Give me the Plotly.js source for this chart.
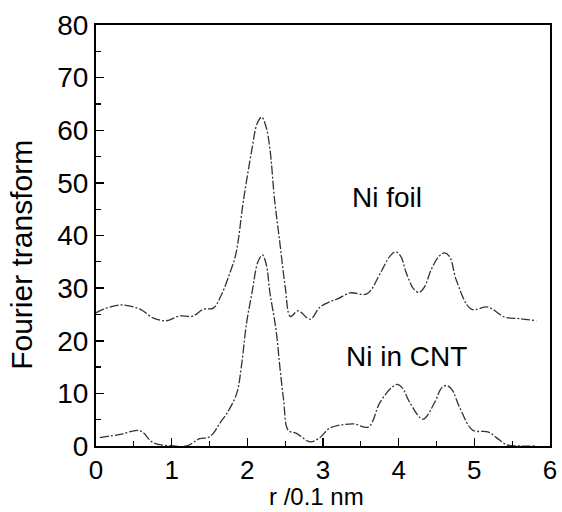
<!DOCTYPE html>
<html>
<head>
<meta charset="utf-8">
<script src="https://cdn.plot.ly/plotly-3.0.1.min.js"></script>
<style>html,body{margin:0;padding:0;background:#fff;}#chart{width:562px;height:512px;}</style>
</head>
<body>
<div id="chart"></div>
<script>
// Ni foil (upper curve)
var foilR = [0, 0.1, 0.32, 0.58, 0.76, 0.93, 1.1, 1.28, 1.42, 1.55, 1.65, 1.77, 1.85, 1.95, 2.06, 2.13, 2.19, 2.25, 2.3, 2.36, 2.43, 2.5, 2.57, 2.67, 2.83, 2.96, 3.09, 3.2, 3.36, 3.58, 3.76, 3.88, 3.96, 4.03, 4.1, 4.2, 4.27, 4.34, 4.43, 4.53, 4.61, 4.68, 4.76, 4.96, 5.18, 5.4, 5.6, 5.82];
var foilFT = [25.3, 26, 26.8, 26, 24.3, 23.8, 24.7, 24.7, 26, 26.2, 28.5, 32.9, 36.6, 46.8, 56.3, 61.3, 62.5, 60.5, 56.3, 46.8, 38.6, 30.3, 24.6, 25.7, 24.1, 26.4, 27.4, 28, 29.1, 28.9, 32.9, 36.0, 36.9, 36.0, 32.9, 29.8, 29.2, 30.2, 33.5, 36.0, 36.7, 35.8, 31.6, 26, 26.4, 24.5, 24.2, 23.8];
// Ni in CNT (lower curve)
var cntR = [0.05, 0.32, 0.58, 0.76, 1.02, 1.2, 1.37, 1.48, 1.55, 1.64, 1.73, 1.86, 1.92, 1.99, 2.06, 2.14, 2.2, 2.25, 2.3, 2.38, 2.43, 2.48, 2.54, 2.65, 2.83, 2.96, 3.09, 3.4, 3.6, 3.75, 3.9, 3.98, 4.05, 4.15, 4.32, 4.48, 4.56, 4.63, 4.7, 4.81, 4.98, 5.18, 5.3, 5.43, 5.6, 5.8];
var cntFT = [1.6, 2.2, 2.9, 0.6, 0, 0, 1.4, 1.6, 2.4, 4.4, 6.2, 10, 15, 23.4, 29, 35.0, 36.3, 34.5, 29, 22, 15, 8.7, 3, 2.4, 0.8, 1.6, 3.4, 4.2, 3.6, 8.2, 11.0, 11.7, 11.0, 8.2, 5.1, 8.4, 10.9, 11.5, 10.8, 7.2, 3.0, 2.7, 1.5, 0.2, 0, 0];
var labels = ["Ni foil", "Ni in CNT"];
var labelR = [3.85, 4.1];
var labelFT = [47.3, 17.1];
var xTitle = "r /0.1 nm";
var yTitle = "Fourier transform";

var lineStyle = {color: '#333', width: 1.3, dash: '9px,2px,2px,2px', shape: 'spline', smoothing: 1.0};
var traces = [
  {x: foilR, y: foilFT, mode: 'lines', line: lineStyle, name: labels[0]},
  {x: cntR, y: cntFT, mode: 'lines', line: lineStyle, name: labels[1]}
];
var fontFam = 'Liberation Sans, Arial, sans-serif';
var anns = labels.map(function(t, i) {
  return {x: labelR[i], y: labelFT[i], xref: 'x', yref: 'y', text: t, showarrow: false,
          font: {size: 28, family: fontFam, color: '#000'}};
});
anns.push({x: -0.163, y: 0.454, xref: 'paper', yref: 'paper', text: yTitle, textangle: -90,
           showarrow: false, xanchor: 'center', yanchor: 'middle',
           font: {size: 30, family: fontFam, color: '#000'}});
anns.push({x: 0.485, y: -0.1535, xref: 'paper', yref: 'paper', text: xTitle,
           showarrow: false, xanchor: 'center', yanchor: 'bottom', borderpad: 0,
           font: {size: 24, family: fontFam, color: '#000'}});
var layout = {
  width: 562, height: 512,
  margin: {l: 96, r: 12, t: 25, b: 66},
  paper_bgcolor: '#fff', plot_bgcolor: '#fff',
  showlegend: false,
  font: {family: fontFam, color: '#000', size: 28},
  xaxis: {
    range: [0, 6], dtick: 1, tick0: 0,
    ticks: 'inside', ticklen: 8, tickwidth: 1.5, tickcolor: '#000',
    minor: {dtick: 0.5, ticks: 'inside', ticklen: 5, tickwidth: 1.2, tickcolor: '#000'},
    showline: true, linecolor: '#000', linewidth: 2, mirror: true,
    showgrid: false, zeroline: false,
    tickfont: {size: 26, family: fontFam}
  },
  yaxis: {
    range: [0, 80], dtick: 10, tick0: 0,
    ticks: 'inside', ticklen: 8, tickwidth: 1.5, tickcolor: '#000',
    minor: {dtick: 5, ticks: 'inside', ticklen: 5, tickwidth: 1.2, tickcolor: '#000'},
    showline: true, linecolor: '#000', linewidth: 2, mirror: true,
    showgrid: false, zeroline: false,
    tickfont: {size: 28, family: fontFam}
  },
  annotations: anns
};
Plotly.newPlot('chart', traces, layout, {displayModeBar: false, staticPlot: true});
</script>
</body>
</html>
